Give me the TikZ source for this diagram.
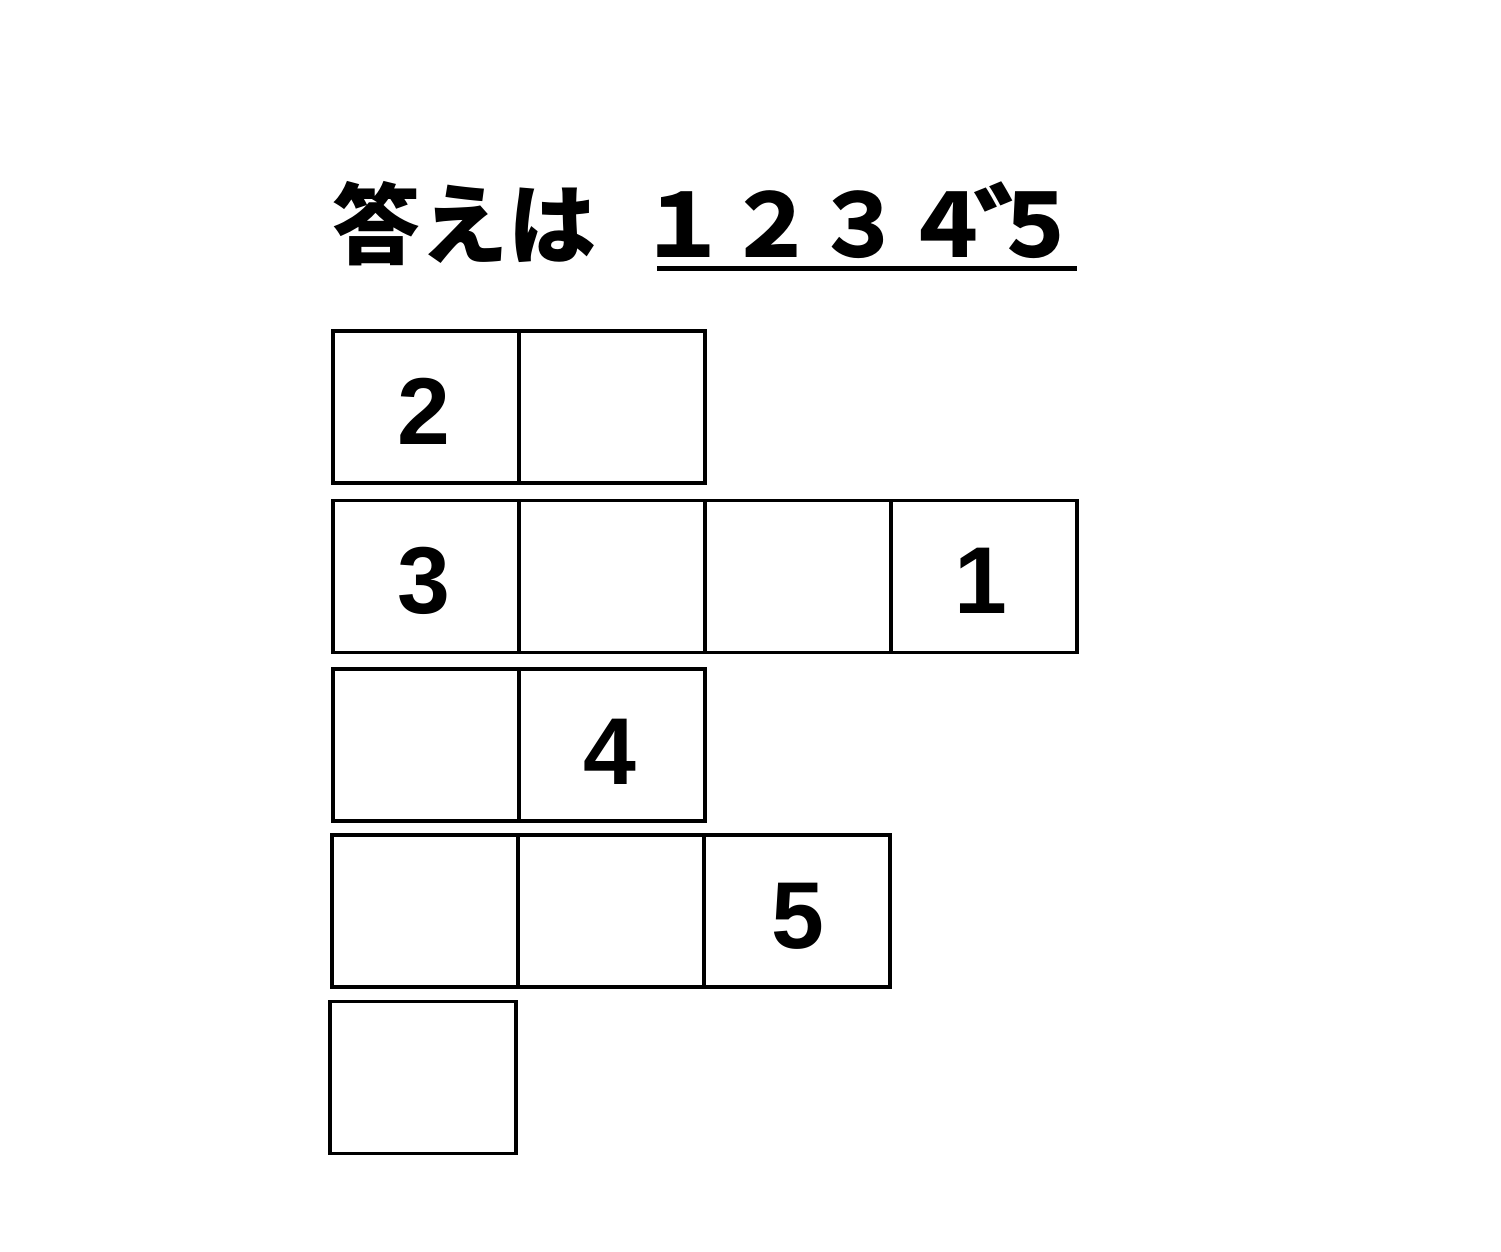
\documentclass[tikz,border=0pt]{standalone}
\usepackage{fontspec}
\newfontfamily\jpfont{Noto Sans CJK JP}
\newfontfamily\numfont{Liberation Sans}
\begin{document}
\begin{tikzpicture}[x=1pt,y=-1pt,
  cell/.style={draw,line width=3.5pt,minimum width=186pt,minimum height=152pt,inner sep=0pt,anchor=center},
  num/.style={inner sep=0pt,font=\numfont\bfseries\fontsize{95}{95}\selectfont},
  title/.style={inner sep=0pt,anchor=base west,font=\jpfont\bfseries\fontsize{88}{88}\selectfont}]
\useasboundingbox[fill=white] (0,0) rectangle (1501,1251);
% title
\node[title] (t1) at (332,257) {答えは};
\node[title] (t2) at (639,257) {１２３４\rlap{\hspace*{-18pt}\raisebox{-23pt}[0pt][0pt]{\fontsize{115}{115}\selectfont ゛}}５};
\coordinate (ul1) at (657,268.5);
\coordinate (ul2) at (1077,268.5);
\draw[line width=5pt] (ul1) -- (ul2);
% row 1
\node[cell] (a1) at (426,407) {};
\node[cell] (a2) at (612,407) {};
% row 2
\node[cell] (b1) at (426,576.5) {};
\node[cell] (b2) at (612,576.5) {};
\node[cell] (b3) at (798,576.5) {};
\node[cell] (b4) at (984,576.5) {};
% row 3
\node[cell] (c1) at (426,745) {};
\node[cell] (c2) at (612,745) {};
% row 4
\node[cell] (d1) at (425,911) {};
\node[cell] (d2) at (611,911) {};
\node[cell] (d3) at (797,911) {};
% row 5
\node[cell] (e1) at (423,1077.5) {};
% numbers
\node[num] (n2) at (424,411) {2};
\node[num] (n3) at (424,581) {3};
\node[num] (n1) at (981,581) {1};
\node[num] (n4) at (610,752) {4};
\node[num] (n5) at (798,916) {5};
\end{tikzpicture}
\end{document}
